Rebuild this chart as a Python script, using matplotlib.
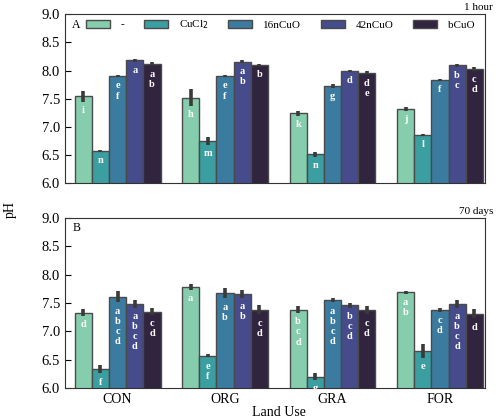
import numpy as np
import matplotlib
matplotlib.use("Agg")
import matplotlib.pyplot as plt
from matplotlib.patches import Patch

plt.rcParams['font.family'] = ['Liberation Serif', 'DejaVu Serif']

land_use = ['CON', 'ORG', 'GRA', 'FOR']
treatments = ['-', 'CuCl$_2$', '16nCuO', '42nCuO', 'bCuO']
colors = ['#85cdac', '#3b9fa2', '#3a7b9f', '#464c8b', '#30243f']

# 1 hour: mean pH per land use (rows) and treatment (columns)
ph_1h = [
    [7.54, 6.57, 7.90, 8.18, 8.12],
    [7.52, 6.75, 7.90, 8.16, 8.10],
    [7.24, 6.51, 7.73, 7.99, 7.96],
    [7.32, 6.86, 7.83, 8.09, 8.03],
]
err_1h = [
    [0.10, 0.02, 0.02, 0.02, 0.03],
    [0.15, 0.07, 0.02, 0.03, 0.02],
    [0.05, 0.05, 0.04, 0.02, 0.03],
    [0.04, 0.02, 0.02, 0.03, 0.03],
]
letters_1h = [
    ['i', 'n', 'ef', 'a', 'ab'],
    ['h', 'm', 'ef', 'ab', 'b'],
    ['k', 'n', 'g', 'd', 'de'],
    ['j', 'l', 'f', 'bc', 'cd'],
]

# 70 days
ph_70d = [
    [7.33, 6.33, 7.61, 7.48, 7.35],
    [7.78, 6.57, 7.67, 7.66, 7.38],
    [7.38, 6.20, 7.55, 7.46, 7.37],
    [7.69, 6.65, 7.38, 7.48, 7.31],
]
err_70d = [
    [0.06, 0.07, 0.10, 0.07, 0.06],
    [0.05, 0.03, 0.09, 0.07, 0.08],
    [0.06, 0.06, 0.04, 0.04, 0.07],
    [0.03, 0.12, 0.04, 0.07, 0.08],
]
letters_70d = [
    ['d', 'fg', 'abcd', 'abcd', 'cd'],
    ['a', 'ef', 'ab', 'ab', 'cd'],
    ['bcd', 'g', 'abcd', 'bcd', 'cd'],
    ['ab', 'e', 'cd', 'abcd', 'd'],
]


def draw_panel(ax, means, errs, letters, tag, note):
    means = np.array(means)
    errs = np.array(errs)
    x = np.arange(len(land_use))
    width = 0.16
    for j in range(len(treatments)):
        xs = x + (j - 2) * width
        ax.bar(xs, means[:, j], width, bottom=0, color=colors[j],
               edgecolor='#4a4a4a', linewidth=1.0, zorder=2)
        ax.errorbar(xs, means[:, j], yerr=errs[:, j], fmt='none',
                    ecolor='#3a3a3a', elinewidth=2.6, capsize=0, zorder=3)
        # significance letters, stacked vertically inside the bar
        for i in range(len(land_use)):
            ax.annotate('\n'.join(letters[i][j]),
                        (xs[i], means[i, j] - errs[i, j]),
                        xytext=(0, -3), textcoords='offset points',
                        ha='center', va='top', fontsize=7.5, color='white',
                        fontweight='bold', linespacing=1.15, zorder=4)
    ax.set_ylim(6.0, 9.0)
    ax.set_xlim(-0.49, 3.42)
    ax.set_yticks(np.arange(6.0, 9.01, 0.5))
    ax.set_xticks(x)
    ax.tick_params(axis='y', direction='in', labelsize=10.5, length=4)
    ax.tick_params(axis='x', direction='in', length=3, labelsize=10)
    for s in ax.spines.values():
        s.set_color('#333333')
    ax.text(0.017, 0.975, tag, transform=ax.transAxes, fontsize=8.5,
            ha='left', va='top')
    ax.text(1.019, 1.012, note, transform=ax.transAxes, fontsize=8,
            ha='right', va='bottom')


fig = plt.figure(figsize=(4.96, 4.2), dpi=100)
ax1 = fig.add_axes([0.131, 0.564, 0.847, 0.402])
ax2 = fig.add_axes([0.131, 0.076, 0.847, 0.405])

draw_panel(ax1, ph_1h, err_1h, letters_1h, 'A', '1 hour')
draw_panel(ax2, ph_70d, err_70d, letters_70d, 'B', '70 days')

ax1.set_xticklabels([])
ax2.set_xticklabels(land_use)

handles = [Patch(facecolor=c, edgecolor='#4a4a4a', linewidth=1.0) for c in colors]
ax1.legend(handles, treatments, ncol=5, loc='upper left',
           bbox_to_anchor=(0.05, 0.975), frameon=False, fontsize=8,
           handlelength=2.15, handleheight=0.75, columnspacing=1.75,
           handletextpad=1.0, borderaxespad=0, borderpad=0)

fig.text(0.02, 0.5, 'pH', rotation=90, ha='center', va='center', fontsize=10)
fig.text(0.562, 0.017, 'Land Use', ha='center', va='center', fontsize=10)

fig.savefig('out.png', dpi=100)
plt.close(fig)
